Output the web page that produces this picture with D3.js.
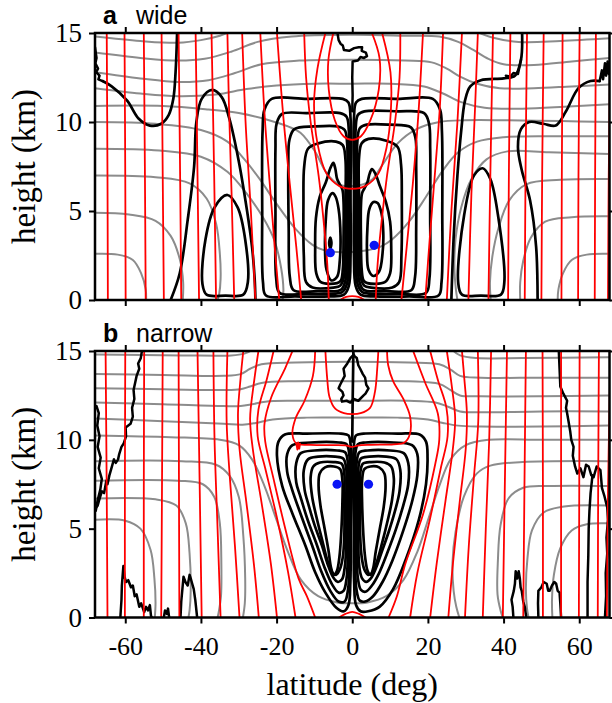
<!DOCTYPE html>
<html>
<head>
<meta charset="utf-8">
<script src="https://cdn.jsdelivr.net/npm/d3@7"></script>
<style>
  html, body { margin: 0; padding: 0; background: #fff; }
  svg { display: block; }
</style>
</head>
<body>
<svg id="chart" width="612" height="703"></svg>
<script>
// Axis ticks
const latTicks = [-60, -40, -20, 0, 20, 40, 60];
const kmTicks = [0, 5, 10, 15];
const panelLetters = ["a", "b"];
const panelNames = ["wide", "narrow"];

// ---------- panel a (wide) : [latitude, height km] ----------
// angular momentum contours (red)
const wideRed = [
  [[-64.6,0],[-64.7,7],[-64.9,15]],
  [[-59.9,0],[-60.0,7],[-60.2,15]],
  [[-54.6,0],[-54.8,7],[-55.1,15]],
  [[-49.8,0],[-50.1,7],[-50.4,15]],
  [[-45.2,0],[-45.5,7],[-45.9,15]],
  [[-40.5,0],[-40.9,7],[-41.4,15]],
  [[-36.0,0],[-36.5,7],[-37.2,15]],
  [[-31.2,0],[-31.9,6],[-32.6,11],[-33.0,15]],
  [[-25.6,0],[-26.8,5],[-28.2,10],[-29.1,15]],
  [[-19.3,0],[-20.5,3],[-21.8,6.5],[-23.2,10.5],[-24.3,15]],
  [[-13.5,0],[-14.8,3],[-16.5,6.5],[-18.3,10.5],[-19.9,15]],
  [[-6.2,0],[-6.6,2],[-7.6,4.5],[-8.9,7],[-11.0,10],[-12.2,12.5],[-12.7,15]],
  [[-5.0,15],[-6.3,13.5],[-6.2,11.8],[-4.6,10.1],[-2.3,9.2],[0,9.0],[2.3,9.2],[4.8,10.1],[7.0,11.8],[7.2,13.6],[5.2,15]],
  [[-7.1,15],[-9.2,13],[-10.1,11],[-9.2,8.8],[-6.8,7.1],[-3.4,6.4],[0,6.25],[3.4,6.4],[6.9,7.1],[9.1,8.6],[10.2,10.6],[10.1,12.8],[7.9,15]],
  [[-3.2,0],[-1.6,0.17],[0,0.22],[1.6,0.17],[3.2,0]],
  [[6.2,0],[6.7,2],[7.8,4.5],[9.2,7],[11.3,10],[12.5,12.5],[12.7,15]],
  [[13.0,0],[14.4,3],[16.0,6.5],[17.5,10.5],[18.7,15]],
  [[19.3,0],[20.5,3.5],[22.0,7.5],[23.2,11],[24.0,15]],
  [[25.0,0],[26.2,5],[27.8,10],[29.0,15]],
  [[30.7,0],[31.5,6],[32.5,11],[33.2,15]],
  [[36.0,0],[36.5,7],[37.2,15]],
  [[41.2,0],[41.4,7],[41.8,15]],
  [[45.6,0],[45.8,7],[46.2,15]],
  [[50.0,0],[50.2,7],[50.6,15]],
  [[55.3,0],[55.4,7],[55.6,15]],
  [[59.7,0],[59.8,7],[60.1,15]],
  [[64.1,0],[64.2,7],[64.4,15]],
  [[67.6,0],[67.8,7],[68.2,14]]
];

// temperature contours (gray)
const wideGray = [
  [[-68,14.8],[-56,14.55],[-46,14.45],[-40,14.6],[-35,14.85],[-32.5,15.05]],
  [[33,15.05],[37,14.75],[44,14.5],[55,14.55],[68,14.7]],
  [[-68,13.9],[-56,13.6],[-46,13.45],[-39,13.55],[-32,13.95],[-25,14.5],[-16,14.8],[0,14.9],[14,14.85],[23,14.8],[28,14.5],[32,14.05],[36,13.55],[40,13.25],[48,13.2],[58,13.4],[68,13.6]],
  [[-68,12.8],[-56,12.45],[-46,12.25],[-38,12.35],[-31,12.75],[-24,13.25],[-14,13.45],[0,13.5],[14,13.45],[21,13.35],[25,13.0],[28.5,12.55],[33,12.15],[39,11.9],[48,11.9],[58,12.0],[68,12.1]],
  [[-68,11.9],[-56,11.6],[-46,11.45],[-36,11.55],[-28,11.85],[-20,12.05],[-10,12.15],[0,12.15],[10,12.15],[19,12.0],[24,11.6],[29,11.1],[35,10.8],[45,10.75],[56,10.85],[68,11.0]],
  [[-68,10.9],[-50,10.9],[-38,10.7],[-30,10.5],[-22,10.1],[-17,9.75],[-13.7,9.4],[-10,8.4],[-7,7.2],[-5,6.7],[-3,6.45],[0,6.4],[3,6.5],[5.2,6.75],[8,7.6],[12,8.8],[17,9.6],[23,10.0],[30,10.1],[40,10.1],[55,10.05],[68,10.0]],
  [[-68,10.0],[-52,9.9],[-40,9.55],[-33,8.9],[-28.5,7.9],[-24.5,6.8],[-20,5.4],[-15,4.0],[-10.5,3.1],[-7.5,2.8],[-4,2.7],[0,2.7],[4,2.8],[7.5,3.0],[10.5,3.4],[15,4.4],[19.5,5.8],[24,7.3],[28,8.3],[33,8.9],[40,9.15],[55,9.2],[68,9.2]],
  [[-68,8.5],[-51,8.4],[-40,8.05],[-33,7.2],[-28,6.0],[-23.5,4.6],[-20.5,3.3],[-18.8,1.8],[-18.2,0.6],[-18.4,0]],
  [[-68,7.0],[-52,6.9],[-43,6.55],[-38.5,5.7],[-36,4.3],[-35,2.6],[-34.8,1.2],[-35.2,0.3],[-35.6,0]],
  [[-68,4.9],[-59,4.8],[-52,4.45],[-48,3.6],[-45.6,2.3],[-44.7,1.0],[-44.8,0]],
  [[-68,2.6],[-62,2.55],[-58,2.25],[-55.8,1.5],[-54.6,0.6],[-54.5,0]],
  [[68,8.2],[52,8.3],[41,8.35],[35.5,7.9],[31.5,6.8],[28.8,5.2],[27.3,3.4],[27.0,1.8],[27.4,0.6],[27.8,0]],
  [[68,6.8],[55,6.75],[46,6.5],[41.5,5.6],[38.6,4.0],[37,2.4],[36.4,1.0],[36.6,0]],
  [[68,4.7],[58,4.65],[51,4.4],[47.2,3.5],[45.2,2.2],[44.4,1.0],[44.4,0]],
  [[68,2.6],[62,2.55],[58,2.25],[55.7,1.5],[54.5,0.6],[54.3,0]]
];

// streamfunction contours (black), open and smooth
const wideBlack = [
  [[-66,12.3],[-63.6,12.0],[-59.5,11.2],[-56.5,10.2],[-53.5,9.8],[-50.5,9.9],[-48.5,10.4],[-47.3,11.3],[-46.7,12.8],[-46.3,15]],
  [[-48.0,0],[-45.6,1.5],[-43.5,4.5],[-41.8,7.5],[-41.2,10.0],[-39.8,11.3],[-37,11.8],[-34.5,11.4],[-32.5,10.2],[-30,7.8],[-27.8,5],[-26.5,3.0],[-25.8,1.2],[-25.6,0]],
  [[44.9,15],[44.6,13.5],[43.0,12.6],[40,12.45],[34,12.35],[31.2,12.0],[29.8,11.2],[28.8,9.5],[27.8,7],[26.8,3.5],[26.2,0]],
  [[49.0,0],[48.6,3.0],[47,5.6],[44.8,7.3],[43.8,8.6],[44.6,9.6],[46.8,10.0],[50.5,9.9],[53.8,9.8],[56.5,10.6],[59.8,11.9],[63,12.3],[65.4,12.3]]
];

// streamfunction contours (black), closed cells
const wideBlackLoops = [
  [[-39.6,0.9],[-38.8,3.4],[-36.4,5.2],[-33.0,5.9],[-30.3,5.2],[-28.3,3.4],[-27.6,1.0],[-28.8,0.3],[-33.5,0.25],[-38.5,0.3]],
  [[28.0,1.0],[29.6,4.8],[32.2,7.0],[34.5,7.4],[36.5,6.8],[38.5,4.8],[40.2,1.0],[39.3,0.3],[34,0.25],[29,0.3]],
  // southern cell
  [[-0.45,10.2],[-1.0,11.1],[-2.5,11.3],[-12,11.3],[-21.3,11.3],[-23.2,10.7],[-23.7,9.5],[-23.8,5],[-23.6,1.0],[-22.8,0.25],[-15,0.2],[-6,0.2],[-2.2,0.3],[-0.9,0.8],[-0.45,2.5],[-0.45,6]],
  [[-0.9,9.5],[-1.5,10.3],[-3.2,10.5],[-12,10.5],[-18.6,10.45],[-20,9.9],[-20.3,8.5],[-20.3,5],[-20.1,1.2],[-19.2,0.4],[-12,0.35],[-5,0.35],[-2.6,0.45],[-1.4,0.9],[-0.9,2.5],[-0.9,6]],
  [[-1.35,8.8],[-2.0,9.55],[-3.8,9.75],[-10,9.75],[-15.3,9.6],[-16.6,9.0],[-16.9,7.5],[-16.8,4],[-16.5,1.3],[-15.5,0.55],[-9,0.5],[-4,0.5],[-2.8,0.6],[-1.8,1.1],[-1.35,2.6],[-1.35,6]],
  [[-1.8,7.9],[-2.5,8.7],[-4.3,8.9],[-9,8.8],[-11.7,8.5],[-12.7,7.5],[-12.9,5.5],[-12.8,2.5],[-12.2,1.0],[-10.5,0.7],[-5,0.7],[-3.2,0.8],[-2.2,1.3],[-1.8,3],[-1.8,5.5]],
  [[-2.3,5.5],[-2.6,6.2],[-3.3,6.5],[-4.0,6.8],[-4.5,7.4],[-5.0,7.7],[-5.8,7.4],[-7.0,6.6],[-8.6,5.8],[-9.6,4.6],[-9.8,3],[-9.5,1.5],[-8.3,1.0],[-4,0.95],[-3.0,1.1],[-2.5,1.7],[-2.3,3.5]],
  [[-5.2,6.0],[-6.4,5.6],[-7.0,4.5],[-7.2,3.0],[-6.8,1.7],[-5.5,1.1],[-4.0,1.3],[-3.3,2.2],[-3.1,3.6],[-3.6,5.1],[-4.4,5.8]],
  [[-5.8,2.9],[-6.1,3.2],[-5.8,3.5],[-5.5,3.2]],
  // northern cell
  [[0.45,10.2],[1.0,11.1],[2.5,11.3],[12,11.3],[21.3,11.3],[23.2,10.7],[23.7,9.5],[23.8,5],[23.6,1.0],[22.8,0.25],[15,0.2],[6,0.2],[2.2,0.3],[0.9,0.8],[0.45,2.5],[0.45,6]],
  [[0.9,9.6],[1.5,10.4],[3.2,10.6],[12,10.6],[19.0,10.5],[20.3,9.9],[20.6,8.5],[20.6,5],[20.4,1.2],[19.5,0.4],[12,0.35],[5,0.35],[2.6,0.45],[1.4,0.9],[0.9,2.5],[0.9,6]],
  [[1.35,8.9],[2.0,9.65],[3.8,9.85],[10,9.85],[15.5,9.7],[16.7,9.1],[16.9,7.5],[16.9,4],[16.6,1.3],[15.6,0.55],[9,0.5],[4,0.5],[2.8,0.6],[1.8,1.1],[1.35,2.6],[1.35,6]],
  [[1.8,8.0],[2.5,8.8],[4.3,9.05],[9,8.95],[12.0,8.6],[12.9,7.6],[13.1,5.5],[13.0,2.5],[12.4,1.0],[10.6,0.7],[5,0.7],[3.2,0.8],[2.2,1.3],[1.8,3],[1.8,5.5]],
  [[2.3,5.3],[2.6,6.0],[3.3,6.3],[4.0,6.6],[4.6,7.1],[5.2,7.35],[6.1,7.1],[7.3,6.4],[8.9,5.5],[10.0,4.4],[10.3,3],[10.0,1.5],[8.6,1.0],[4,0.95],[3.0,1.1],[2.5,1.7],[2.3,3.5]],
  [[5.6,5.5],[4.5,5.1],[4.0,4.0],[3.9,2.7],[4.3,1.7],[5.6,1.35],[7.1,1.6],[8.0,2.6],[8.2,3.8],[7.7,4.9],[6.7,5.45]]
];

// streamfunction contours (black), noisy segments
const wideBlackRagged = [
  [[-68,14.2],[-67.6,13.6],[-67.9,13.3],[-67.2,13.0],[-67.7,12.8],[-66.8,12.6],[-67.1,12.4],[-66,12.3]],
  [[65.4,12.3],[66,12.9],[66.3,12.4],[66.8,13.3],[67.1,12.6],[67.5,13.4],[67.8,12.7],[68,13.2]],
  [[0,10.6],[0.1,11.5],[0,12.5],[0.1,13.4],[1.5,13.45],[2.2,13.65],[3.1,13.6],[3.9,13.7],[3.6,13.9],[2.5,14.0],[2.6,14.2],[1.7,14.2],[0.5,14.15],[-0.8,14.0],[-2.2,14.05],[-2.5,14.3],[-3.1,14.4],[-3.6,14.6],[-3.9,15]],
  [[44.6,13.5],[43.8,12.7],[42.6,12.75],[41.8,12.55],[40.6,12.6]]
];

// streamfunction extrema
const wideDots = [[-5.8, 2.66], [5.8, 3.07]];

// ---------- panel b (narrow) ----------
const narrowRed = [
  [[-64.7,0],[-64.9,7],[-65.2,15]],
  [[-60.1,0],[-60.1,7],[-60.0,15]],
  [[-55.1,0],[-55.1,7],[-55.0,15]],
  [[-50.5,0],[-50.3,7],[-50.1,15]],
  [[-45.7,0],[-45.8,7],[-45.9,15]],
  [[-39.8,0],[-40.3,7],[-40.9,15]],
  [[-34.8,0],[-35.6,5],[-36.4,10],[-36.7,15]],
  [[-29.8,0],[-31.0,4],[-32.4,8],[-33.2,11],[-33.0,15]],
  [[-24.7,0],[-26.0,3],[-28.0,6.5],[-29.8,9.5],[-30.2,11.5],[-29.5,13.5],[-28.8,15]],
  [[-19.9,0],[-21.5,3],[-24.0,6.5],[-26.3,9.5],[-27.0,11.2],[-26.0,13.2],[-24.8,15]],
  [[-15.0,0],[-17.0,2.6],[-20.0,5.7],[-23.0,8.4],[-25.0,10.2],[-24.8,11.7],[-22.6,13.4],[-20.8,15]],
  [[-9.8,0],[-12.0,1.2],[-14.2,2.2],[-17.7,5.0],[-20.8,7.8],[-23.0,9.9],[-23.2,10.9],[-21.4,12.4],[-17.8,14.0],[-15.8,15]],
  [[-9.8,15],[-10.4,13.6],[-12.6,12.2],[-15,11.2],[-15.8,10.3],[-14.8,9.8],[-11,9.72],[-5,9.7],[-1.5,9.68],[0,9.6],[1.5,9.68],[5,9.72],[11,9.75],[13.8,9.85],[15.2,10.3],[15.3,11.3],[13.5,12.3],[10.8,13.3],[9.5,14.2],[9.2,15]],
  [[-7.1,15],[-6.6,13.4],[-6.0,12.4],[-4.5,11.75],[-2.2,11.5],[0,11.45],[2.2,11.5],[4.7,11.8],[6.0,12.7],[6.6,14],[6.9,15]],
  [[-3.5,0],[-1.8,0.2],[0,0.32],[1.8,0.2],[3.5,0]],
  [[9.6,0],[11.8,1.2],[14.0,3.0],[18.7,5.8],[21.9,8.6],[23.0,10.0],[22.6,11.5],[19.3,13.2],[16.1,15]],
  [[15.3,0],[17.2,2.5],[20.5,5.5],[23.4,8.4],[25.2,10.2],[24.9,11.8],[22.6,13.4],[20.6,15]],
  [[20.6,0],[22.3,3],[24.6,6.5],[26.6,9.5],[27.2,11.2],[26.2,13.2],[25.0,15]],
  [[25.4,0],[26.6,3],[28.4,6.5],[30.0,9.5],[30.3,11.5],[29.6,13.5],[29.0,15]],
  [[29.8,0],[30.8,4],[32.2,8],[33.3,11],[33.2,15]],
  [[34.5,0],[35.3,5],[36.2,10],[36.7,15]],
  [[39.8,0],[40.3,7],[40.9,15]],
  [[45.2,0],[45.5,7],[45.9,15]],
  [[50.4,0],[50.4,7],[50.3,15]],
  [[55.2,0],[55.2,7],[55.2,15]],
  [[59.9,0],[60.0,7],[60.1,15]],
  [[64.9,0],[65.0,7],[65.2,15]],
  [[67.3,0],[67.6,7],[68.1,13]]
];

const narrowRedRagged = [
  [[-14.8,9.8],[-14.5,9.45],[-14.3,9.85],[-14.0,9.5],[-13.8,9.78]]
];

const narrowGray = [
  [[-68,14.8],[-45,14.75],[-32,14.75],[-28.5,14.85],[-26.5,15.05]],
  [[26.5,15.05],[28.5,14.75],[33,14.6],[45,14.6],[68,14.65]],
  [[-68,13.7],[-50,13.65],[-34,13.6],[-29.5,13.7],[-27,14.0],[-24,14.25],[-15,14.35],[0,14.4],[15,14.35],[23,14.25],[26,13.95],[28.5,13.6],[34,13.5],[50,13.5],[68,13.5]],
  [[-68,12.9],[-50,12.85],[-34,12.8],[-29.5,12.85],[-27,13.0],[-24,13.2],[-15,13.3],[0,13.3],[15,13.3],[23,13.15],[26,12.8],[28.5,12.5],[34,12.45],[50,12.45],[68,12.5]],
  [[-68,12.1],[-50,12.0],[-34,11.9],[-29.5,11.9],[-26.5,12.0],[-23,12.15],[-15,12.2],[0,12.2],[15,12.2],[22,12.1],[25.5,11.85],[28.5,11.6],[34,11.55],[50,11.6],[68,11.6]],
  [[-68,11.2],[-50,11.05],[-34,10.9],[-29,10.85],[-25.5,10.95],[-21,11.15],[-12,11.25],[0,11.25],[12,11.25],[20,11.15],[24,10.95],[28,10.8],[34,10.75],[50,10.75],[68,10.8]],
  [[-68,10.25],[-48,10.15],[-35,10.0],[-30,9.7],[-26.5,8.9],[-23.2,7.4],[-20.2,5.6],[-17,3.7],[-13.5,2.1],[-9,1.2],[-4,0.85],[0,0.8],[4,0.85],[9,1.2],[13.5,2.1],[17.2,3.7],[20.2,5.6],[23,7.4],[26,8.9],[30,9.7],[36,10.0],[50,10.0],[68,10.0]],
  [[-68,8.8],[-45,8.8],[-36,8.6],[-32.5,8.0],[-30,6.8],[-28.8,4.6],[-28.3,2.2],[-28.4,0.8],[-28.9,0]],
  [[-68,7.7],[-46,7.7],[-39.5,7.5],[-36.5,6.8],[-35,5.3],[-34.6,3.0],[-34.7,1.2],[-35.3,0.3],[-35.6,0]],
  [[-68,6.7],[-52,6.65],[-46.5,6.3],[-44,5.3],[-43,3.6],[-42.7,1.5],[-43,0.4],[-43.3,0]],
  [[-68,5.5],[-60,5.45],[-56,5.0],[-53.3,3.8],[-52.3,2.2],[-52.0,0.8],[-52.2,0]],
  [[68,8.8],[45,8.75],[36.5,8.55],[32.9,8.1],[29.5,6.8],[27.3,4.8],[26.5,3.1],[26.8,1.5],[27.5,0.6],[28.3,0]],
  [[68,7.4],[52,7.4],[45.2,7.3],[41.3,6.7],[39.2,5.2],[38.5,3.2],[38.4,1.3],[39.2,0.4],[39.8,0]],
  [[68,6.3],[56,6.25],[50.5,5.9],[47.5,4.9],[46.3,3.3],[45.9,1.6],[46.2,0.5],[46.6,0]],
  [[68,5.3],[62,5.25],[58,4.9],[55,3.9],[53.3,2.4],[52.8,1.0],[52.9,0]]
];

const narrowBlack = [
  [[0,9.9],[0.05,11],[0.1,12.1]],
  [[0.1,12.1],[0.2,13.5],[0.3,15]]
];

const narrowBlackLoops = [
  // southern cell
  [[-0.4,9.6],[-1.0,10.25],[-3,10.35],[-12,10.35],[-17.8,10.3],[-19.5,9.9],[-19.9,9.1],[-18.5,7.4],[-15.9,5.9],[-12.4,4.05],[-9.8,2.55],[-7.1,1.4],[-4.2,0.55],[-2.2,0.35],[-1.0,0.7],[-0.5,2],[-0.4,5]],
  [[-0.75,9.1],[-1.5,9.75],[-3.5,9.85],[-11,9.85],[-15.8,9.7],[-17.2,9.2],[-17.2,8.2],[-15.9,7.2],[-13.6,5.8],[-10.6,4.05],[-8.2,2.6],[-5.8,1.5],[-3.6,0.9],[-2.0,0.9],[-1.1,1.6],[-0.75,3],[-0.75,6]],
  [[-1.15,8.7],[-1.9,9.3],[-4,9.4],[-10,9.4],[-13.6,9.25],[-14.8,8.7],[-14.8,7.6],[-13.7,6.8],[-11.8,5.5],[-9.3,4.05],[-7.3,2.8],[-5.3,1.85],[-3.6,1.4],[-2.3,1.5],[-1.5,2.2],[-1.15,3.6],[-1.15,6.5]],
  [[-1.6,8.4],[-2.4,8.95],[-4.5,9.05],[-9,9.05],[-11.7,8.9],[-12.8,8.3],[-12.6,7.2],[-11.5,6.3],[-9.8,5.1],[-8.0,4.05],[-6.5,3.0],[-5.0,2.25],[-3.8,2.0],[-2.7,2.15],[-2.0,2.8],[-1.6,4],[-1.6,6.5]],
  [[-2.1,8.1],[-2.8,8.65],[-5,8.75],[-8.5,8.72],[-10.3,8.5],[-11.0,7.9],[-10.6,6.8],[-9.4,5.6],[-8.0,4.4],[-6.7,3.3],[-5.5,2.6],[-4.3,2.4],[-3.3,2.7],[-2.5,3.4],[-2.1,4.6],[-2.1,6.8]],
  [[-2.6,7.7],[-3.2,8.35],[-4.8,8.5],[-7.2,8.45],[-8.6,8.1],[-8.9,7.4],[-8.4,6.3],[-7.3,5.0],[-6.3,3.8],[-5.6,2.8],[-4.9,2.4],[-4.1,2.6],[-3.4,3.4],[-2.9,4.8],[-2.6,6.5]],
  // northern cell
  [[0.4,9.6],[1.0,10.25],[3,10.35],[12,10.35],[17.8,10.3],[19.5,9.9],[19.9,9.0],[19.5,7.5],[17.6,5.5],[14.2,3.3],[10.8,1.6],[7.2,0.6],[4.2,0.35],[2.2,0.35],[1.0,0.7],[0.5,2],[0.4,5]],
  [[0.75,9.1],[1.5,9.75],[3.5,9.85],[11,9.85],[15.8,9.7],[17.2,9.2],[17.2,8.0],[15.9,6.6],[13.5,4.9],[10.6,3.2],[8.0,2.0],[5.5,1.2],[3.4,0.9],[2.0,0.95],[1.1,1.6],[0.75,3],[0.75,6]],
  [[1.15,8.7],[1.9,9.3],[4,9.4],[10,9.4],[13.6,9.25],[14.8,8.7],[14.8,7.5],[13.6,6.4],[11.6,5.0],[9.2,3.6],[7.1,2.5],[5.2,1.8],[3.5,1.45],[2.3,1.55],[1.5,2.2],[1.15,3.6],[1.15,6.5]],
  [[1.6,8.4],[2.3,8.95],[4.5,9.05],[9,9.05],[11.7,8.9],[12.7,8.3],[12.5,7.1],[11.3,6.0],[9.6,4.8],[7.8,3.7],[6.3,2.8],[4.9,2.2],[3.7,2.0],[2.6,2.2],[1.9,2.8],[1.6,4],[1.6,6.5]],
  [[2.1,8.1],[2.8,8.65],[5,8.75],[8.5,8.72],[10.3,8.5],[11.0,7.8],[10.5,6.6],[9.3,5.4],[7.9,4.2],[6.6,3.2],[5.4,2.55],[4.2,2.4],[3.2,2.7],[2.5,3.4],[2.1,4.6],[2.1,6.8]],
  [[2.6,7.7],[3.2,8.35],[4.8,8.5],[7.1,8.45],[8.5,8.1],[8.8,7.3],[8.3,6.2],[7.2,4.9],[6.2,3.7],[5.5,2.75],[4.8,2.4],[4.1,2.6],[3.4,3.4],[2.9,4.8],[2.6,6.5]]
];

const narrowBlackRagged = [
  [[0.4,14.8],[-0.5,14.6],[-1.3,14.3],[-2.3,14.0],[-2.0,13.6],[-3.2,13.1],[-3.6,12.9],[-2.6,12.7],[-2.3,12.5],[-2.9,12.3],[-2.7,12.15],[-1.5,12.2],[-0.5,12.1],[0.4,12.3],[1.6,12.2],[3.0,12.5],[3.5,12.6],[4.3,12.9],[3.7,13.1],[3.4,13.5],[2.8,13.7],[2.1,14.0],[1.6,14.2],[1.2,14.6],[0.6,14.7],[0.4,14.8]],
  [[-55.6,15],[-55.9,14.6],[-56.6,14.3],[-56.3,14.0],[-57,13.6],[-57.4,13.2],[-57.8,12.8],[-57.6,12.3],[-58.2,11.8],[-58.0,11.3],[-58.6,10.9],[-59.9,10.7],[-59.8,10.2],[-60.4,9.8],[-61.0,9.6],[-61.6,9.2],[-61.9,8.9],[-62.5,8.7],[-63.0,8.9],[-63.8,8.3],[-64.2,8.0],[-64.7,7.5],[-65.0,7.7],[-65.6,7.0],[-66.2,7.1],[-66.9,6.6],[-67.3,6.3],[-67.7,6.2]],
  [[-67.6,11.9],[-67.0,11.5],[-67.4,10.8],[-66.8,10.2],[-67.3,9.6],[-66.5,9.0],[-67.0,8.4],[-66.2,7.8],[-66.6,7.2],[-67.3,6.6],[-67.8,6.0]],
  [[-61.3,0],[-61.0,1.0],[-60.9,1.8],[-60.5,2.9],[-60.2,2.3],[-59.8,2.0],[-59.2,2.1],[-58.5,1.7],[-58.0,1.8],[-57.5,1.2],[-57.0,1.3],[-56.3,0.6],[-55.8,0.8],[-55.0,0.3],[-54.5,0.6],[-54.0,0.4],[-53.5,0.7],[-53.2,0.1],[-53,0]],
  [[-49.8,0],[-49.5,0.4],[-49.0,0.2],[-48.7,0.5],[-48.4,0]],
  [[-45.4,0],[-45.2,0.9],[-44.9,1.6],[-44.6,2.3],[-44.1,2.0],[-43.5,1.8],[-43.0,2.4],[-42.7,2.2],[-42.3,1.9],[-41.9,1.6],[-41.5,1.0],[-41.0,0]],
  [[54.6,15],[54.8,14],[55,13],[55.8,12.6],[56.8,12.2],[56.5,11.8],[56.8,11.5],[57.2,11.0],[57.6,10.5],[57.9,10.0],[58.5,9.6],[58.3,9.1],[58.9,8.5],[59.5,8.1],[60.3,8.4],[61.1,7.9],[61.8,8.6],[62.5,8.5],[63.2,8.0],[63.8,7.9],[64.6,8.5],[65.6,8.3],[65.8,7.8],[66,7.3],[66.7,6.8],[67.4,6.2],[67.6,5.5],[67.2,4.5],[67.4,3.6],[67.0,2.5],[67.1,1.2],[66.8,0]],
  [[63.5,8.0],[63.0,7.0],[62.7,6.0],[62.5,5.0],[62.4,3.5],[62.2,2.0],[62.2,0]],
  [[42.6,0],[42.4,0.6],[42.1,1.0],[42.7,1.5],[43.0,1.9],[43.2,2.6],[43.6,2.2],[44.0,2.6],[44.3,2.2],[44.5,1.7],[44.8,1.5],[45.2,0.9],[45.6,0.6],[45.8,0.3],[46,0]],
  [[49.2,0],[49.1,0.8],[49.2,1.5],[50.0,1.7],[50.6,2.0],[51.4,1.9],[51.8,1.5],[52.2,1.5],[52.8,1.8],[53.4,2.0],[53.9,1.9],[54.3,1.5],[54.8,1.4],[55.0,0.8],[55.2,0]]
];

const narrowDots = [[-4.0, 7.5], [4.3, 7.5]];

// ---------- drawing ----------
const svg = d3.select("#chart");
svg.append("rect").attr("width", 612).attr("height", 703).attr("fill", "#fff");

const x = d3.scaleLinear().domain([-68, 68]).range([95, 609.5]);

const panels = [
  { top: 33, bottom: 300, red: wideRed, redRagged: [], gray: wideGray, black: wideBlack,
    loops: wideBlackLoops, ragged: wideBlackRagged, dots: wideDots, xLabels: false },
  { top: 351, bottom: 617.5, red: narrowRed, redRagged: narrowRedRagged, gray: narrowGray, black: narrowBlack,
    loops: narrowBlackLoops, ragged: narrowBlackRagged, dots: narrowDots, xLabels: true }
];

const serif = "'Liberation Serif', 'Times New Roman', serif";
const sans = "'Liberation Sans', Arial, sans-serif";
const fmt = d => (d < 0 ? "-" + Math.abs(d) : String(d));

panels.forEach((p, i) => {
  const y = d3.scaleLinear().domain([0, 15]).range([p.bottom, p.top]);
  const g = svg.append("g");
  const clipId = "clip" + i;
  g.append("clipPath").attr("id", clipId)
    .append("rect").attr("x", x(-68)).attr("y", p.top)
    .attr("width", x(68) - x(-68)).attr("height", p.bottom - p.top);

  const smooth = d3.line().x(d => x(d[0])).y(d => y(d[1])).curve(d3.curveCatmullRom.alpha(0.5));
  const closed = d3.line().x(d => x(d[0])).y(d => y(d[1])).curve(d3.curveCatmullRomClosed.alpha(0.5));
  const jag = d3.line().x(d => x(d[0])).y(d => y(d[1]));

  const plot = g.append("g").attr("clip-path", `url(#${clipId})`)
    .attr("fill", "none").attr("stroke-linejoin", "round").attr("stroke-linecap", "round");

  plot.append("g").attr("stroke", "#8c8c8c").attr("stroke-width", 2)
    .selectAll("path").data(p.gray).join("path").attr("d", smooth);

  const blk = plot.append("g").attr("stroke", "#000").attr("stroke-width", 2.7);
  blk.selectAll("path.o").data(p.black).join("path").attr("class", "o").attr("d", smooth);
  blk.selectAll("path.c").data(p.loops).join("path").attr("class", "c").attr("d", closed);
  blk.selectAll("path.r").data(p.ragged).join("path").attr("class", "r").attr("d", jag)
    .attr("stroke-width", 2.5);

  const red = plot.append("g").attr("stroke", "#f00").attr("stroke-width", 1.8);
  red.selectAll("path.o").data(p.red).join("path").attr("class", "o").attr("d", smooth);
  red.selectAll("path.r").data(p.redRagged).join("path").attr("class", "r").attr("d", jag);

  plot.append("g").selectAll("circle").data(p.dots).join("circle")
    .attr("cx", d => x(d[0])).attr("cy", d => y(d[1])).attr("r", 4.6)
    .attr("fill", "#0a14f5").attr("stroke", "none");

  // axes with outward ticks on all four sides
  const tickStyle = sel => {
    sel.select(".domain").remove();
    sel.selectAll(".tick line").attr("stroke", "#000").attr("stroke-width", 2);
  };
  g.append("g").attr("transform", `translate(0,${p.bottom})`)
    .call(d3.axisBottom(x).tickValues(latTicks).tickSize(6).tickPadding(13)
      .tickFormat(p.xLabels ? fmt : () => ""))
    .call(tickStyle)
    .call(s => s.selectAll("text").attr("font-family", serif).attr("font-size", 26).attr("fill", "#000"));
  g.append("g").attr("transform", `translate(0,${p.top})`)
    .call(d3.axisTop(x).tickValues(latTicks).tickSize(6).tickFormat(() => ""))
    .call(tickStyle);
  g.append("g").attr("transform", `translate(${x(-68)},0)`)
    .call(d3.axisLeft(y).tickValues(kmTicks).tickSize(6).tickPadding(7).tickFormat(fmt))
    .call(tickStyle)
    .call(s => s.selectAll("text").attr("font-family", serif).attr("font-size", 27).attr("fill", "#000"));
  g.append("g").attr("transform", `translate(${x(68)},0)`)
    .call(d3.axisRight(y).tickValues(kmTicks).tickSize(6).tickFormat(() => ""))
    .call(tickStyle);

  g.append("rect").attr("x", x(-68)).attr("y", p.top)
    .attr("width", x(68) - x(-68)).attr("height", p.bottom - p.top)
    .attr("fill", "none").attr("stroke", "#000").attr("stroke-width", 2.5);

  // panel title
  const t = g.append("text").attr("x", 103).attr("y", p.top - 9)
    .attr("font-family", sans).attr("font-size", 25).attr("fill", "#000");
  t.append("tspan").attr("font-weight", "bold").text(panelLetters[i]);
  t.append("tspan").attr("x", 136).text(panelNames[i]);

  // y axis title
  g.append("text")
    .attr("transform", `translate(35,${(p.top + p.bottom) / 2}) rotate(-90)`)
    .attr("text-anchor", "middle")
    .attr("font-family", serif).attr("font-size", 33).attr("fill", "#000")
    .text("height (km)");
});

svg.append("text").attr("x", x(0)).attr("y", 695).attr("text-anchor", "middle")
  .attr("font-family", serif).attr("font-size", 32).attr("fill", "#000")
  .text("latitude (deg)");
</script>
</body>
</html>
